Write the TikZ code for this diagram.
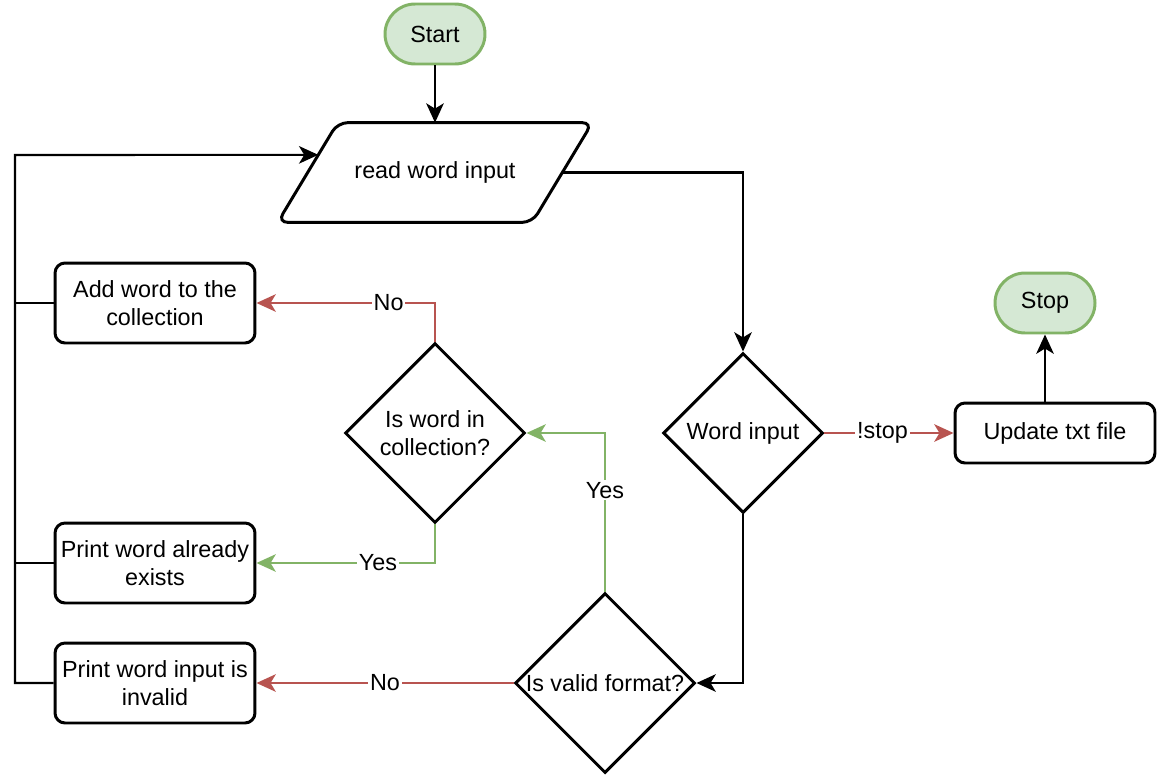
\documentclass[tikz,border=0pt]{standalone}
\usepackage{fontspec}
\setmainfont{Liberation Sans}
\usetikzlibrary{positioning, shapes.geometric, arrows.meta, calc}
\definecolor{terminalFill}{RGB}{213,232,212}
\definecolor{terminalLine}{RGB}{130,179,102}
\definecolor{noColor}{RGB}{184,84,80}
\definecolor{yesColor}{RGB}{130,179,102}
\tikzstyle{flowchart} = [x = 0.02cm, y = -0.02cm, font=\fontsize{13.3}{16}\selectfont]
\tikzstyle{terminalStyle} = [draw=terminalLine, fill=terminalFill, line width=1.7pt, rounded corners=0.6cm, minimum width=2cm, minimum height=1.2cm]
\tikzstyle{ioStyle} = [minimum width=5.08cm, minimum height=1.98cm, inner sep=0pt]
\tikzstyle{ioLine} = [draw, line width=1.7pt, rounded corners=0.2cm]
\tikzstyle{processStyle} = [draw, line width=1.7pt, rounded corners=0.2cm, minimum width=4cm, minimum height=1.6cm, align=center, inner sep=0pt]
\tikzstyle{decisionStyle} = [draw, diamond, line width=1.7pt, inner sep=0pt, align=center]
\tikzstyle{flowLine} = [line width=1.2pt, -{Stealth[length=11pt, width=10pt, inset=3pt]}]
\tikzstyle{noLine} = [flowLine, draw=noColor]
\tikzstyle{yesLine} = [flowLine, draw=yesColor]
\tikzstyle{edgeLabel} = [fill=white, inner sep=1pt, font=\fontsize{13.3}{15}\selectfont, text=black]
\newcommand{\ioSkew}{30}

\begin{document}
\begin{tikzpicture}[flowchart]
        \useasboundingbox (0,0) rectangle (1158,774);

        \node [terminalStyle] (start) at (435,34) {Start};
        \node [ioStyle] (read) at (435,172.5) {read word input};
        \coordinate (readBL) at ($(read.south west) + (-\ioSkew,0)$);
        \coordinate (readTL) at ($(read.north west) + (\ioSkew,0)$);
        \coordinate (readTR) at ($(read.north east) + (\ioSkew,0)$);
        \coordinate (readBR) at ($(read.south east) + (-\ioSkew,0)$);
        \draw [ioLine] (readBL) -- (readTL) -- (readTR) -- (readBR) -- cycle;
        \node [processStyle] (add) at (155,303) {Add word to the\\collection};
        \node [processStyle] (exists) at (155,563) {Print word already\\exists};
        \node [processStyle] (invalid) at (155,683) {Print word input is\\invalid};
        \node [decisionStyle, minimum width=3.6cm, minimum height=3.6cm] (collection) at (435,433) {Is word in\\collection?};
        \node [decisionStyle, minimum width=3.2cm, minimum height=3.2cm] (word) at (743,433) {Word input};
        \node [decisionStyle, minimum width=3.6cm, minimum height=3.6cm] (valid) at (605,683) {Is valid format?};
        \node [processStyle, minimum height=1.2cm] (update) at (1055,433) {Update txt file};
        \node [terminalStyle] (stop) at (1045,303) {Stop};
        \coordinate (loopTop) at (15,155);

        \draw [flowLine] (start) -- (read);
        \draw [flowLine] (read.east) -| (word.north);
        \draw [noLine] (word.east) -- node [edgeLabel, pos=.45] {!stop} (update.west);
        \draw [flowLine] (update.north -| stop) -- (stop.south);
        \draw [flowLine] (word.south) |- (valid.east);
        \draw [yesLine] (valid.north) |- node [edgeLabel, pos=.32] {Yes} (collection.east);
        \draw [noLine] (valid.west) -- node [edgeLabel] {No} (invalid.east);
        \draw [noLine] (collection.north) |- node [edgeLabel, pos=.63] {No} (add.east);
        \draw [yesLine] (collection.south) |- node [edgeLabel, pos=.66] {Yes} (exists.east);

        \draw [line width=1.2pt] (add.west) -- (add.west -| loopTop);
        \draw [line width=1.2pt] (exists.west) -- (exists.west -| loopTop);
        \draw [flowLine] (invalid.west) -| (loopTop) -- ($(readBL)!.677!(readTL)$);
\end{tikzpicture}
\end{document}
